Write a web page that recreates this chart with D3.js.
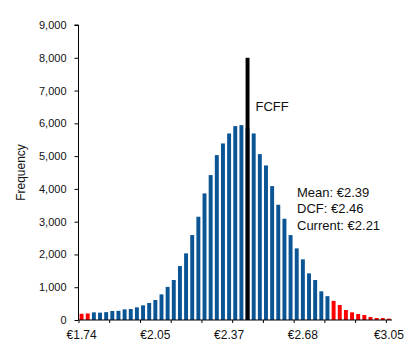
<!DOCTYPE html>
<html>
<head>
<meta charset="utf-8">
<script src="https://cdn.jsdelivr.net/npm/d3@7"></script>
<style>
  html, body { margin: 0; padding: 0; background: #fff; }
  svg { display: block; font-family: "Liberation Sans", Arial, sans-serif; }
</style>
</head>
<body>
<svg id="chart" width="405" height="343"></svg>
<script>
// ---- data ----
const frequencies = [
  190, 200, 234, 224, 240, 274, 280, 325, 335, 386,
  447, 518, 610, 782, 1010, 1220, 1646, 2033, 2591, 3150,
  3862, 4421, 5030, 5386, 5691, 5915, 5945, 5850, 5691, 5061,
  4715, 4085, 3516, 3089, 2591, 2185, 1850, 1423, 1220, 874,
  727, 584, 457, 305, 234, 183, 152, 91, 61, 61,
  41
];
const tailFlags = frequencies.map((d, i) => (i < 2 || i > 40) ? "tail" : "core");
const markerBin = 27;          // FCFF DCF value bin
const markerValue = 8000;
const markerLabel = "FCFF";
const xTickLabelBins = [0, 12, 24, 36, 50];
const xTickLabels = ["€1.74", "€2.05", "€2.37", "€2.68", "€3.05"];
const yTicks = [0, 1000, 2000, 3000, 4000, 5000, 6000, 7000, 8000, 9000];
const statsLines = ["Mean: €2.39", "DCF: €2.46", "Current: €2.21"];
const yTitle = "Frequency";

// ---- layout ----
(function () {
const svg = d3.select("#chart");
const mLeft = 78.5, mRight = 392, mTop = 25, mBottom = 320;
const bins = d3.range(frequencies.length);

const x = d3.scaleBand().domain(bins).range([mLeft, mRight]).paddingInner(0.36).paddingOuter(0.18);
const xEdge = d3.scaleLinear().domain([0, frequencies.length]).range([mLeft, mRight]);
const y = d3.scaleLinear().domain([0, 9000]).range([mBottom, mTop]);

const colors = { core: "#0b5595", tail: "#ff0000" };

// bars
svg.append("g").selectAll("rect").data(bins).join("rect")
  .attr("x", i => x(i))
  .attr("y", i => y(frequencies[i]))
  .attr("width", x.bandwidth())
  .attr("height", i => y(0) - y(frequencies[i]))
  .attr("fill", i => colors[tailFlags[i]]);

// marker bar
svg.append("rect")
  .attr("x", x(markerBin))
  .attr("y", y(markerValue))
  .attr("width", x.bandwidth())
  .attr("height", y(0) - y(markerValue))
  .attr("fill", "#000");

svg.append("text")
  .attr("x", x(markerBin) + x.bandwidth() + 6)
  .attr("y", y(markerValue) + 53)
  .attr("font-size", 13)
  .attr("fill", "#111")
  .text(markerLabel);

// y axis
const yAxis = svg.append("g")
  .attr("transform", `translate(${mLeft},0)`)
  .call(d3.axisLeft(y).tickValues(yTicks).tickSize(4).tickPadding(8).tickFormat(d3.format(",")));
yAxis.select(".domain").attr("stroke", "#000").attr("d", `M-4,${mTop}H0V${mBottom}`);
yAxis.selectAll(".tick line").attr("stroke", "#000");
yAxis.selectAll(".tick text").attr("font-size", 11).attr("fill", "#111")
  .attr("font-family", "Liberation Sans, Arial, sans-serif");

// x axis (tick marks at bin edges every 5 bins)
const xAxis = svg.append("g")
  .attr("transform", `translate(0,${mBottom})`)
  .call(d3.axisBottom(xEdge).tickValues(d3.range(0, frequencies.length, 5)).tickSize(3).tickFormat(""));
xAxis.select(".domain").attr("stroke", "#000").attr("d", `M${mLeft},0H${mRight}`);
xAxis.selectAll(".tick line").attr("stroke", "#000");

// x tick labels centered on bins
svg.append("g").selectAll("text").data(xTickLabelBins).join("text")
  .attr("x", i => x(i) + x.bandwidth() / 2)
  .attr("y", mBottom + 19)
  .attr("text-anchor", "middle")
  .attr("font-size", 12)
  .attr("fill", "#111")
  .text((d, k) => xTickLabels[k]);

// y title
svg.append("text")
  .attr("transform", `translate(25,${(mTop + mBottom) / 2}) rotate(-90)`)
  .attr("text-anchor", "middle")
  .attr("font-size", 12)
  .attr("fill", "#111")
  .text(yTitle);

// stats text
svg.append("g").selectAll("text").data(statsLines).join("text")
  .attr("x", 297)
  .attr("y", (d, i) => 196.5 + i * 16.5)
  .attr("font-size", 13)
  .attr("fill", "#111")
  .text(d => d);
})();
</script>
</body>
</html>
